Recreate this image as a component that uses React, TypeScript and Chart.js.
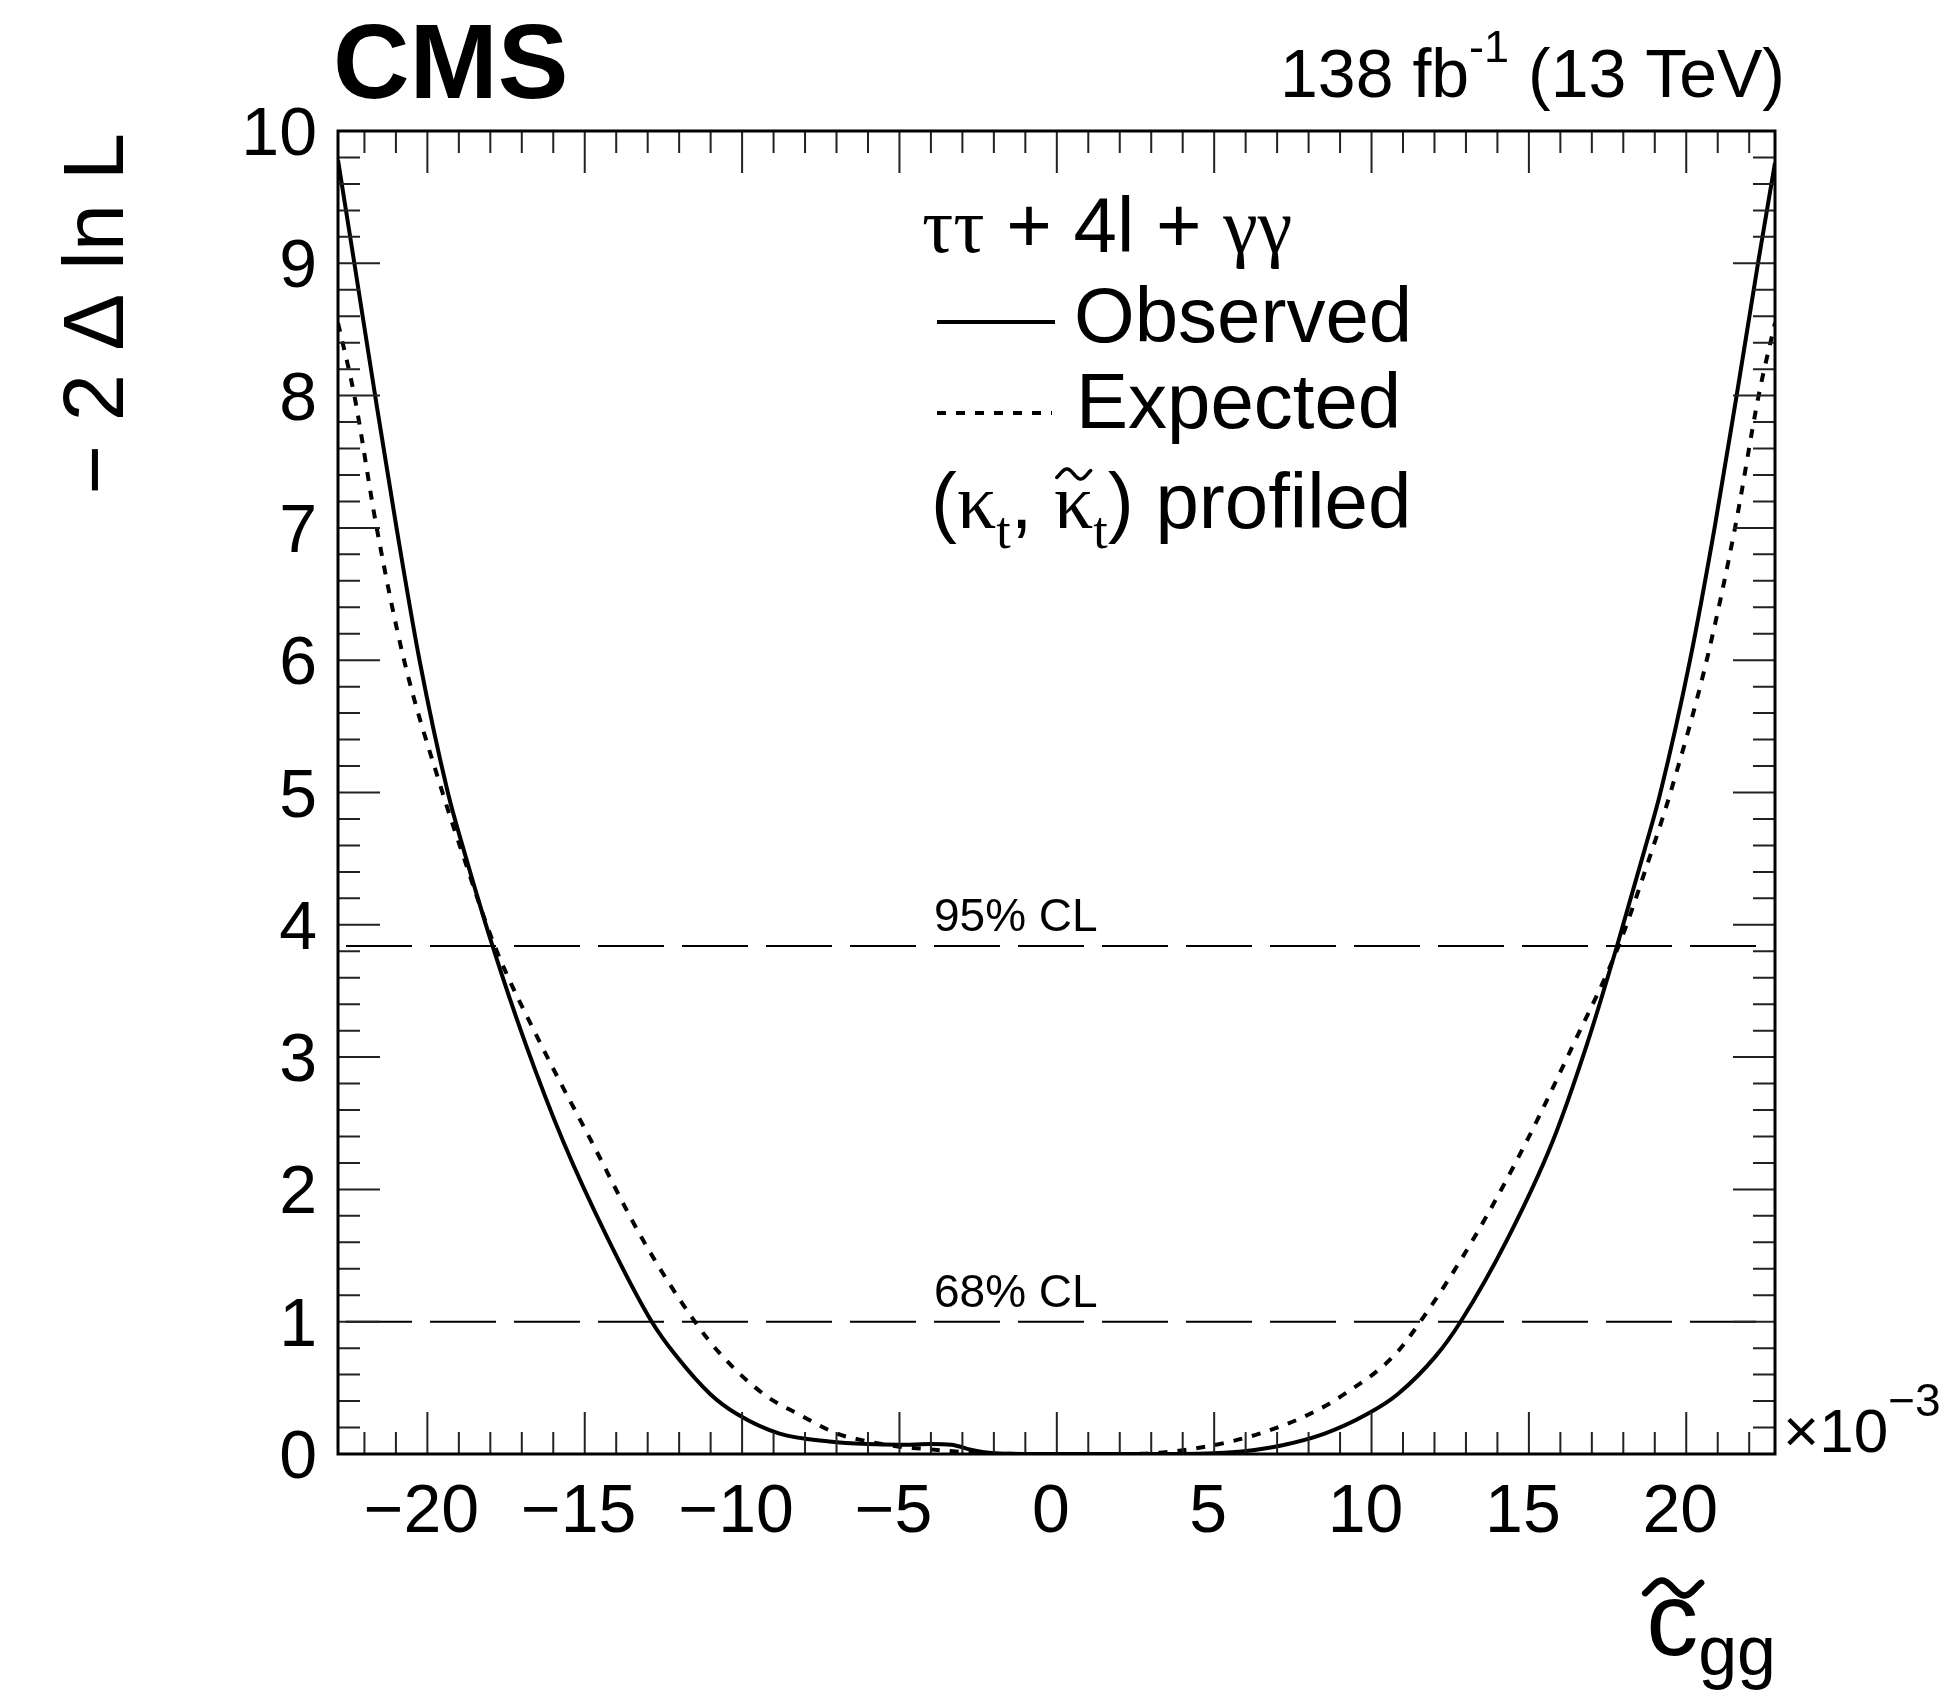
import React, { useEffect, useRef } from 'react';
import { Chart, registerables } from 'chart.js';
Chart.register(...registerables);

const W = 1957;
const H = 1691;

// axis ranges (x in units of 10^-3)
const X_MIN = -22.84;
const X_MAX = 22.82;
const Y_MIN = 0;
const Y_MAX = 10;

// Observed profile
const OBS_X = [-22.84, -22.32, -21.66, -20.98, -20.25, -19.35, -18.85, -17.93, -16.88, -15.68, -14.27, -12.87, -12.09, -11.0, -10.15, -8.81, -7.23, -6.0, -5.0, -4.0, -3.35, -2.7, -2.0, -1.0, 0.0, 2.0, 4.0, 5.0, 5.95, 7.17, 8.51, 9.85, 10.82, 12.04, 12.83, 14.33, 15.75, 16.85, 17.8, 18.68, 19.18, 20.12, 20.9, 21.6, 22.28, 22.82];
const OBS_Y = [9.78, 9.0, 8.0, 7.0, 6.0, 5.0, 4.57, 3.84, 3.1, 2.36, 1.63, 1.0, 0.74, 0.45, 0.3, 0.154, 0.095, 0.075, 0.07, 0.075, 0.07, 0.03, 0.005, 0.0, 0.0, 0.0, 0.0, 0.005, 0.02, 0.066, 0.154, 0.3, 0.45, 0.74, 1.0, 1.63, 2.36, 3.1, 3.84, 4.57, 5.0, 6.0, 7.0, 8.0, 9.0, 9.76];

// Expected profile
const EXP_X = [-22.84, -22.32, -21.61, -20.74, -19.52, -18.93, -17.86, -16.4, -14.78, -13.18, -11.5, -10.63, -9.3, -8.2, -6.98, -6.1, -5.0, -4.0, -3.0, -2.0, 0.0, 2.0, 3.3, 4.97, 6.44, 8.02, 9.12, 10.7, 11.55, 13.25, 14.92, 16.42, 17.85, 18.92, 19.5, 20.65, 21.55, 22.3, 22.82];
const EXP_Y = [8.55, 8.0, 7.0, 6.0, 5.0, 4.57, 3.84, 3.1, 2.36, 1.63, 1.0, 0.74, 0.45, 0.3, 0.154, 0.1, 0.055, 0.035, 0.015, 0.003, 0.0, 0.0, 0.01, 0.066, 0.154, 0.3, 0.45, 0.74, 1.0, 1.63, 2.36, 3.1, 3.84, 4.57, 5.0, 6.0, 7.0, 8.0, 8.55];

// confidence-level lines
const CL_LEVELS = [1.0, 3.84];
const CL_LABELS = ['68% CL', '95% CL'];

// ticks
const X_MAJOR = [-20, -15, -10, -5, 0, 5, 10, 15, 20];
const X_LABELS = ['\u221220', '\u221215', '\u221210', '\u22125', '0', '5', '10', '15', '20'];
const Y_MAJOR = [0, 1, 2, 3, 4, 5, 6, 7, 8, 9, 10];
const Y_LABELS = ['0', '1', '2', '3', '4', '5', '6', '7', '8', '9', '10'];
const X_MINOR_STEP = 1;
const Y_MINOR_STEP = 0.2;

const SANS = '"Liberation Sans", Arial, Helvetica, sans-serif';
const SERIF = '"Liberation Serif", "Times New Roman", serif';

type Seg = { t: string; f: string; dy?: number };

function segWidth(ctx: CanvasRenderingContext2D, segs: Seg[]) {
  let w = 0;
  for (const s of segs) {
    ctx.font = s.f;
    w += ctx.measureText(s.t).width;
  }
  return w;
}

function drawSegs(ctx: CanvasRenderingContext2D, x: number, y: number, segs: Seg[], align: 'left' | 'right' = 'left') {
  let cx = align === 'right' ? x - segWidth(ctx, segs) : x;
  const pos: number[] = [];
  ctx.textAlign = 'left';
  ctx.textBaseline = 'alphabetic';
  for (const s of segs) {
    ctx.font = s.f;
    pos.push(cx);
    ctx.fillText(s.t, cx, y + (s.dy || 0));
    cx += ctx.measureText(s.t).width;
  }
  pos.push(cx);
  return pos;
}

function drawTilde(ctx: CanvasRenderingContext2D, cx: number, cy: number, w: number, amp: number, lw: number) {
  ctx.save();
  ctx.beginPath();
  const n = 40;
  for (let i = 0; i <= n; i++) {
    const t = -0.12 + (1.24 * i) / n;
    const px = cx - w / 2 + (w * i) / n;
    const py = cy - amp * Math.sin(2 * Math.PI * t);
    if (i === 0) ctx.moveTo(px, py);
    else ctx.lineTo(px, py);
  }
  ctx.lineWidth = lw;
  ctx.lineCap = 'round';
  ctx.lineJoin = 'round';
  ctx.strokeStyle = '#000';
  ctx.stroke();
  ctx.restore();
}

const decorPlugin = {
  id: 'cmsDecor',
  afterDraw(chart: any) {
    const ctx: CanvasRenderingContext2D = chart.ctx;
    const xs = chart.scales.x;
    const ys = chart.scales.y;
    const { left, right, top, bottom } = chart.chartArea;
    ctx.save();
    ctx.fillStyle = '#000';
    ctx.strokeStyle = '#000';

    // ticks
    ctx.lineWidth = 2;
    ctx.strokeStyle = '#222';
    const majLen = 42;
    const minLen = 22;
    for (let v = Math.ceil(X_MIN); v <= Math.floor(X_MAX); v += X_MINOR_STEP) {
      const px = xs.getPixelForValue(v);
      const len = X_MAJOR.includes(v) ? majLen : minLen;
      ctx.beginPath();
      ctx.moveTo(px, bottom);
      ctx.lineTo(px, bottom - len);
      ctx.moveTo(px, top);
      ctx.lineTo(px, top + len);
      ctx.stroke();
    }
    const nY = Math.round((Y_MAX - Y_MIN) / Y_MINOR_STEP);
    for (let i = 0; i <= nY; i++) {
      const v = Y_MIN + i * Y_MINOR_STEP;
      const py = ys.getPixelForValue(v);
      const isMaj = Math.abs(v - Math.round(v)) < 1e-6;
      const len = isMaj ? majLen : minLen;
      ctx.beginPath();
      ctx.moveTo(left, py);
      ctx.lineTo(left + len, py);
      ctx.moveTo(right, py);
      ctx.lineTo(right - len, py);
      ctx.stroke();
    }

    // frame
    ctx.strokeStyle = '#000';
    ctx.lineWidth = 3;
    ctx.strokeRect(left, top, right - left, bottom - top);

    // tick labels
    ctx.fillStyle = '#000';
    ctx.font = `68px ${SANS}`;
    ctx.textBaseline = 'alphabetic';
    ctx.textAlign = 'center';
    X_MAJOR.forEach((v, i) => {
      const px = xs.getPixelForValue(v);
      ctx.fillText(X_LABELS[i], px - 6, bottom + 78);
    });
    ctx.textAlign = 'right';
    Y_MAJOR.forEach((v, i) => {
      const py = ys.getPixelForValue(v);
      ctx.fillText(Y_LABELS[i], left - 21, py + 24);
    });

    // x10^-3
    drawSegs(ctx, right + 8, bottom - 2, [
      { t: '\u00d710', f: `62px ${SANS}` },
      { t: '\u22123', f: `46px ${SANS}`, dy: -36 },
    ]);

    // y title
    ctx.save();
    ctx.translate(123, top + 2);
    ctx.rotate(-Math.PI / 2);
    ctx.font = `85px ${SANS}`;
    ctx.textAlign = 'right';
    ctx.textBaseline = 'alphabetic';
    ctx.fillText('\u2212 2 \u0394 ln L', 0, 0);
    ctx.restore();

    // x title: c~_gg
    {
      const segs: Seg[] = [
        { t: 'c', f: `104px ${SANS}` },
        { t: 'gg', f: `70px ${SANS}`, dy: 20 },
      ];
      const pos = drawSegs(ctx, right + 1, bottom + 201, segs, 'right');
      const cW = pos[1] - pos[0];
      drawTilde(ctx, pos[0] + cW / 2 + 1, 1588, 56, 7.5, 6.5);
    }

    // CMS
    ctx.font = `bold 106px ${SANS}`;
    ctx.textAlign = 'left';
    ctx.fillText('CMS', left - 5, 98);

    // lumi
    drawSegs(ctx, right + 10, 97, [
      { t: '138 fb', f: `68px ${SANS}` },
      { t: '-1', f: `45px ${SANS}`, dy: -35 },
      { t: ' (13 TeV)', f: `68px ${SANS}` },
    ], 'right');

    // CL labels
    ctx.font = `46px ${SANS}`;
    ctx.textAlign = 'left';
    CL_LEVELS.forEach((lv, i) => {
      ctx.fillText(CL_LABELS[i], 934, ys.getPixelForValue(lv) - 15);
    });

    // legend
    drawSegs(ctx, 922, 252, [
      { t: '\u03c4\u03c4', f: `78px ${SERIF}` },
      { t: ' + 4l + ', f: `78px ${SANS}` },
      { t: '\u03b3\u03b3', f: `78px ${SERIF}` },
    ]);
    ctx.lineWidth = 4;
    ctx.setLineDash([]);
    ctx.beginPath();
    ctx.moveTo(937, 322);
    ctx.lineTo(1055, 322);
    ctx.stroke();
    ctx.font = `78px ${SANS}`;
    ctx.fillText('Observed', 1074, 342);
    ctx.setLineDash([9, 10]);
    ctx.beginPath();
    ctx.moveTo(937, 413);
    ctx.lineTo(1052, 413);
    ctx.stroke();
    ctx.setLineDash([]);
    ctx.font = `78px ${SANS}`;
    ctx.fillText('Expected', 1076, 428);
    {
      const pos = drawSegs(ctx, 931, 528, [
        { t: '(', f: `78px ${SANS}` },
        { t: '\u03ba', f: `78px ${SERIF}` },
        { t: 't', f: `52px ${SERIF}`, dy: 20 },
        { t: ', ', f: `78px ${SANS}` },
        { t: '\u03ba', f: `78px ${SERIF}` },
        { t: 't', f: `52px ${SERIF}`, dy: 20 },
        { t: ') profiled', f: `78px ${SANS}` },
      ]);
      const kx = (pos[4] + pos[5]) / 2;
      drawTilde(ctx, kx, 474, 34, 5, 3.5);
    }
    ctx.restore();
  },
};

export default function App() {
  const ref = useRef<HTMLCanvasElement | null>(null);
  useEffect(() => {
    if (!ref.current) return;
    const obs = OBS_X.map((x, i) => ({ x, y: OBS_Y[i] }));
    const exp = EXP_X.map((x, i) => ({ x, y: EXP_Y[i] }));
    const clSets = CL_LEVELS.map((lv) => ({
      label: 'CL',
      data: [{ x: X_MIN, y: lv }, { x: X_MAX, y: lv }],
      borderColor: '#000',
      borderWidth: 2,
      borderDash: [66, 18],
      borderDashOffset: 76,
      pointRadius: 0,
      fill: false,
    }));
    const chart = new Chart(ref.current, {
      type: 'line',
      data: {
        datasets: [
          ...clSets,
          {
            label: 'Expected',
            data: exp,
            borderColor: '#000',
            borderWidth: 4,
            borderDash: [9, 10],
            pointRadius: 0,
            cubicInterpolationMode: 'monotone',
            fill: false,
          },
          {
            label: 'Observed',
            data: obs,
            borderColor: '#000',
            borderWidth: 4,
            pointRadius: 0,
            cubicInterpolationMode: 'monotone',
            fill: false,
          },
        ] as any,
      },
      options: {
        animation: false,
        responsive: false,
        devicePixelRatio: 1,
        layout: { padding: { left: 338, right: W - 1775, top: 131, bottom: H - 1454 } },
        plugins: { legend: { display: false }, tooltip: { enabled: false } },
        scales: {
          x: { type: 'linear', min: X_MIN, max: X_MAX, display: false },
          y: { type: 'linear', min: Y_MIN, max: Y_MAX, display: false },
        },
      } as any,
      plugins: [decorPlugin],
    });
    return () => chart.destroy();
  }, []);
  return (
    <div style={{ position: 'absolute', left: 0, top: 0, width: W, height: H, background: '#fff' }}>
      <canvas ref={ref} width={W} height={H} style={{ width: W, height: H, display: 'block' }} />
    </div>
  );
}
